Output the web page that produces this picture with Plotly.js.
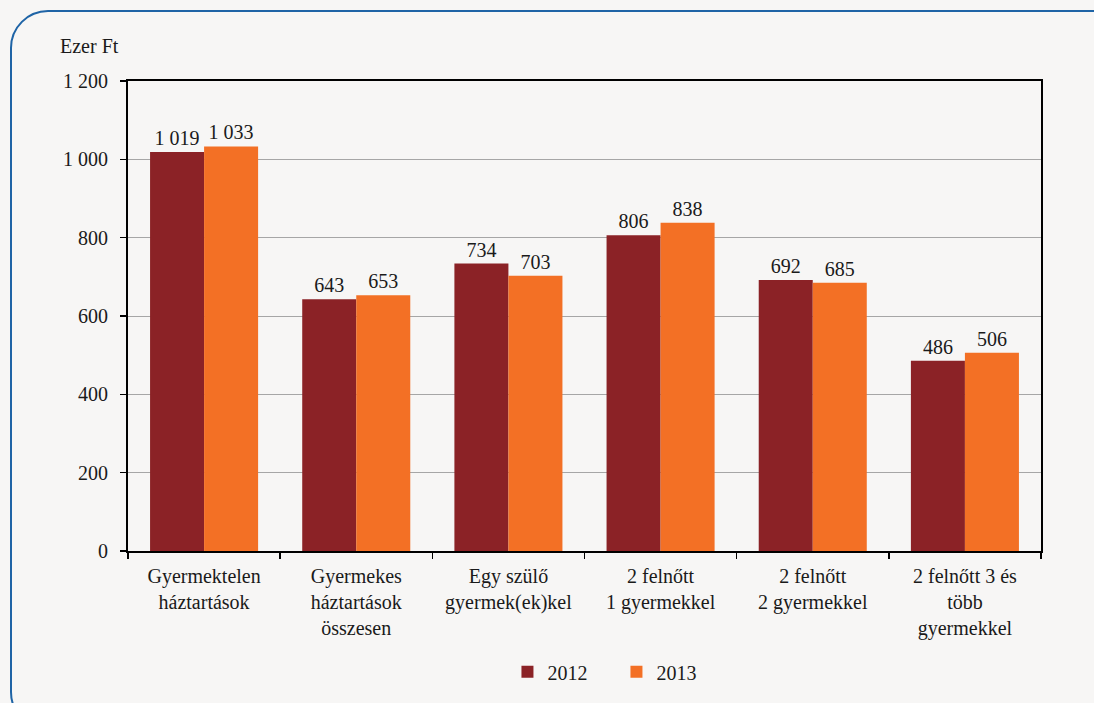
<!DOCTYPE html>
<html><head><meta charset="utf-8">
<script src="https://cdn.plot.ly/plotly-3.0.1.min.js"></script>
<style>
html,body{margin:0;padding:0;background:#f7f6f5;}
#wrap{position:relative;width:1094px;height:703px;overflow:hidden;background:#f7f6f5;}
#frame{position:absolute;left:10px;top:10px;width:1120px;height:720px;border:2px solid #1f64a6;border-radius:38px;box-sizing:border-box;}
#chart{position:absolute;left:0;top:0;width:1094px;height:703px;}
</style></head>
<body><div id="wrap"><div id="frame"></div><div id="chart"></div></div>
<script>
const categories = ["Gyermektelen<br>háztartások","Gyermekes<br>háztartások<br>összesen","Egy szülő<br>gyermek(ek)kel","2 felnőtt<br>1 gyermekkel","2 felnőtt<br>2 gyermekkel","2 felnőtt 3 és<br>több<br>gyermekkel"];
const values2012 = [1019, 643, 734, 806, 692, 486];
const values2013 = [1033, 653, 703, 838, 685, 506];
const seriesNames = ["2012","2013"];
const yTicks = [0, 200, 400, 600, 800, 1000, 1200];
const unitLabel = "Ezer Ft";

const FAM = "Liberation Serif";
const FS = 20;
const font = {family: FAM, size: FS, color: "#1a1a1a"};
const traces = [
  {type:"bar", name:seriesNames[0], x:categories, y:values2012, marker:{color:"#8b2226"},
   texttemplate:"%{y:,d}", textposition:"outside", cliponaxis:false,
   textfont:{family:FAM,size:FS,color:"#1a1a1a"}},
  {type:"bar", name:seriesNames[1], x:categories, y:values2013, marker:{color:"#f37025"},
   texttemplate:"%{y:,d}", textposition:"outside", cliponaxis:false,
   textfont:{family:FAM,size:FS,color:"#1a1a1a"}}
];
const layout = {
  width:1094, height:703,
  paper_bgcolor:"rgba(0,0,0,0)", plot_bgcolor:"rgba(0,0,0,0)",
  font:font, separators:", ",
  margin:{l:128, r:53, t:81, b:152, pad:0},
  barmode:"group", bargap:0.29, bargroupgap:0,
  showlegend:true,
  legend:{orientation:"h", x:0.535, xanchor:"center", y:-0.257, yanchor:"middle",
    font:{family:FAM,size:FS,color:"#1a1a1a"}, itemwidth:30, entrywidth:64, entrywidthmode:"pixels", bgcolor:"rgba(0,0,0,0)"},
  xaxis:{type:"category", showline:true, linecolor:"#000", linewidth:2, mirror:true,
    ticks:"outside", ticklen:6, tickcolor:"#000", tickson:"boundaries", tickwidth:1.5, ticklabelstandoff:6,
    tickfont:{family:FAM,size:FS,color:"#1a1a1a"}, showgrid:false, automargin:false},
  yaxis:{range:[0,1200], tickvals:yTicks, tickformat:",d", showline:true, linecolor:"#000", linewidth:2, mirror:true,
    ticks:"outside", ticklen:6, tickcolor:"#000", tickwidth:1.5, ticklabelstandoff:8,
    showgrid:true, gridcolor:"#a6a6a6", gridwidth:1, zeroline:false,
    tickfont:{family:FAM,size:FS,color:"#1a1a1a"}, automargin:false},
  annotations:[{text:unitLabel, xref:"paper", yref:"paper", x:-0.077, y:1.075, xanchor:"left", yanchor:"middle",
    showarrow:false, font:{family:FAM,size:FS,color:"#1a1a1a"}}]
};
Plotly.newPlot("chart", traces, layout, {displayModeBar:false, staticPlot:true});
</script></body></html>
